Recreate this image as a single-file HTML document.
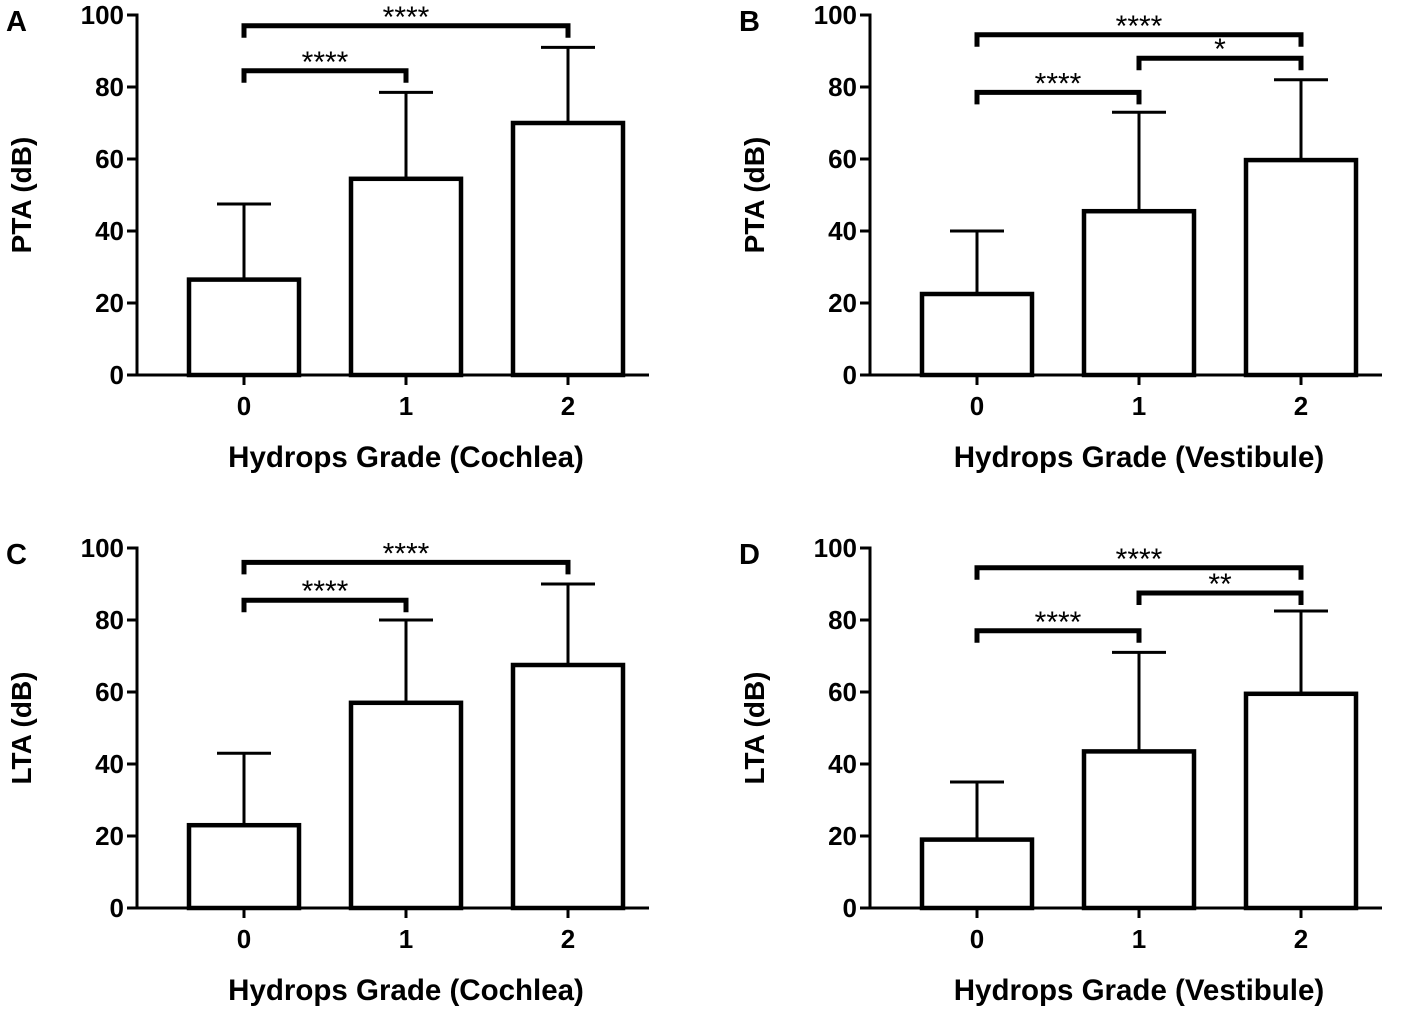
<!DOCTYPE html>
<html><head><meta charset="utf-8"><style>
html,body{margin:0;padding:0;background:#fff;}
svg{display:block;font-family:"Liberation Sans",Arial,sans-serif;}
</style></head><body>
<svg id="c" width="1417" height="1012" viewBox="0 0 1417 1012"></svg>
<script>
const categories = ["0","1","2"];
const yTicks = [0,20,40,60,80,100];
const meanA = [26.5,54.5,70];   const errA = [47.5,78.5,91];
const meanB = [22.5,45.5,59.7]; const errB = [40,73,82];
const meanC = [23,57,67.5];     const errC = [43,80,90];
const meanD = [19,43.5,59.5];   const errD = [35,71,82.5];
const sigA = [[0,2,97,"****"],[0,1,84.5,"****"]];
const sigB = [[0,2,94.5,"****"],[1,2,88,"*"],[0,1,78.5,"****"]];
const sigC = [[0,2,96,"****"],[0,1,85.5,"****"]];
const sigD = [[0,2,94.5,"****"],[1,2,87.5,"**"],[0,1,77,"****"]];

const NS="http://www.w3.org/2000/svg";
const svg=document.getElementById('c');
function mk(tag,attrs,parent,txt){const e=document.createElementNS(NS,tag);for(const k in attrs)e.setAttribute(k,attrs[k]);if(txt!==undefined)e.textContent=txt;(parent||svg).appendChild(e);return e;}

function panel(letter,ox,oy,ylabel,xlabel,means,errs,sigs){
  const g=mk('g',{});
  
  
  const y0=oy, yTop=oy-360;
  const yS=v=>y0-v*3.6;
  const xS=i=>ox+107+i*162;
  const bw=110;
  const L=mk('text',{x:ox-131,y:oy-344,'font-size':29,'font-weight':'bold'},g,letter);
  
  const ya=mk('line',{x1:ox,y1:y0+1.5,x2:ox,y2:yTop-1.5,stroke:'#000','stroke-width':3},g);
  
  yTicks.forEach(t=>{
    mk('line',{x1:ox-10,y1:yS(t),x2:ox,y2:yS(t),stroke:'#000','stroke-width':3},g);
    const tl=mk('text',{x:ox-13,y:yS(t)+9,'font-size':26,'font-weight':'bold','text-anchor':'end'},g,t);
    
  });
  const xa=mk('line',{x1:ox-10,y1:y0,x2:ox+512,y2:y0,stroke:'#000','stroke-width':3},g);
  
  categories.forEach((c,i)=>{
    mk('line',{x1:xS(i),y1:y0,x2:xS(i),y2:y0+10,stroke:'#000','stroke-width':3},g);
    const tl=mk('text',{x:xS(i),y:y0+40,'font-size':26,'font-weight':'bold','text-anchor':'middle'},g,c);
    
    const eb=mk('path',{d:`M${xS(i)} ${yS(means[i])}V${yS(errs[i])}M${xS(i)-27} ${yS(errs[i])}H${xS(i)+27}`,stroke:'#000','stroke-width':3,fill:'none'},g);
    
    const r=mk('rect',{x:xS(i)-bw/2,y:yS(means[i]),width:bw,height:y0-yS(means[i]),fill:'#fff',stroke:'#000','stroke-width':4.5},g);
    
  });
  sigs.forEach(s=>{
    const y=yS(s[2]);
    const p=mk('path',{d:`M${xS(s[0])} ${y+12}V${y}H${xS(s[1])}V${y+12}`,stroke:'#000','stroke-width':5,fill:'none'},g);
    
    const t=mk('text',{x:(xS(s[0])+xS(s[1]))/2,y:y+1,'font-size':30,'text-anchor':'middle'},g,s[3]);
    
  });
  const yt=mk('text',{transform:`translate(${ox-106},${oy-180}) rotate(-90)`,'font-size':28,'font-weight':'bold','text-anchor':'middle'},g,ylabel);
  
  const xt=mk('text',{x:xS(1),y:y0+92,'font-size':29.5,'font-weight':'bold','text-anchor':'middle'},g,xlabel);
  
}
panel('A',137,375,'PTA (dB)','Hydrops Grade (Cochlea)',meanA,errA,sigA);
panel('B',870,375,'PTA (dB)','Hydrops Grade (Vestibule)',meanB,errB,sigB);
panel('C',137,908,'LTA (dB)','Hydrops Grade (Cochlea)',meanC,errC,sigC);
panel('D',870,908,'LTA (dB)','Hydrops Grade (Vestibule)',meanD,errD,sigD);
</script>
</body></html>
